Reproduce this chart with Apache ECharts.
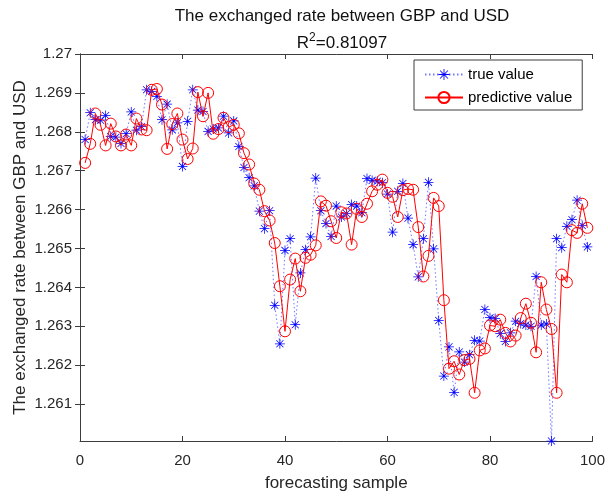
<!DOCTYPE html>
<html>
<head>
<meta charset="utf-8">
<script src="https://cdn.jsdelivr.net/npm/echarts@6/dist/echarts.min.js"></script>
<style>
  html, body { margin: 0; padding: 0; background: #ffffff; }
  #chart { width: 608px; height: 497px; }
</style>
</head>
<body>
<div id="chart"></div>
<script>
// Forecast sample number
const sampleIndex = [
  1, 2, 3, 4, 5, 6, 7, 8, 9, 10, 11, 12, 13, 14, 15, 16, 17, 18, 19, 20,
  21, 22, 23, 24, 25, 26, 27, 28, 29, 30, 31, 32, 33, 34, 35, 36, 37, 38, 39, 40,
  41, 42, 43, 44, 45, 46, 47, 48, 49, 50, 51, 52, 53, 54, 55, 56, 57, 58, 59, 60,
  61, 62, 63, 64, 65, 66, 67, 68, 69, 70, 71, 72, 73, 74, 75, 76, 77, 78, 79, 80,
  81, 82, 83, 84, 85, 86, 87, 88, 89, 90, 91, 92, 93, 94, 95, 96, 97, 98, 99
];

// Observed GBP/USD rate
const trueValue = [
  1.2678, 1.26849, 1.26831, 1.2683, 1.26842, 1.26788, 1.26786, 1.2677, 1.26795, 1.26851,
  1.26804, 1.26813, 1.26908, 1.26904, 1.26891, 1.26831, 1.26871, 1.26805, 1.26823, 1.26711,
  1.26827, 1.26908, 1.26856, 1.26852, 1.26801, 1.26807, 1.2681, 1.2684, 1.26797, 1.26828,
  1.26762, 1.26708, 1.26682, 1.26661, 1.26596, 1.26551, 1.26597, 1.26354, 1.26255, 1.26495,
  1.26525, 1.26304, 1.26437, 1.26497, 1.2653, 1.26681, 1.26597, 1.26564, 1.26531, 1.26609,
  1.26581, 1.2659, 1.26613, 1.26609, 1.26592, 1.2668, 1.26675, 1.26673, 1.26669, 1.2664,
  1.26542, 1.26647, 1.26667, 1.26578, 1.2651, 1.26427, 1.26525, 1.2667, 1.26499, 1.26315,
  1.26172, 1.26247, 1.2613, 1.26234, 1.26208, 1.26227, 1.26264, 1.26262, 1.26343, 1.26322,
  1.2632, 1.26281, 1.26261, 1.26283, 1.26313, 1.26307, 1.26303, 1.263, 1.26428, 1.26303,
  1.26306, 1.26005, 1.26525, 1.26502, 1.26557, 1.26574, 1.26624, 1.26559, 1.26504
];

// Model forecast
const predictiveValue = [
  1.2672, 1.26769, 1.26847, 1.26818, 1.26765, 1.26821, 1.26788, 1.26765, 1.26793, 1.26765,
  1.26834, 1.26806, 1.26804, 1.26908, 1.2691, 1.2687, 1.26756, 1.2682, 1.26847, 1.2678,
  1.2673, 1.26757, 1.26902, 1.2684, 1.269, 1.26795, 1.26807, 1.26836, 1.26812, 1.26818,
  1.26796, 1.26745, 1.26716, 1.26667, 1.26651, 1.26596, 1.26572, 1.26514, 1.26403, 1.26287,
  1.2642, 1.26474, 1.2639, 1.26476, 1.26484, 1.26508, 1.26621, 1.2661, 1.2657, 1.26527,
  1.26593, 1.2659, 1.2651, 1.26602, 1.26581, 1.26615, 1.26647, 1.26664, 1.26677, 1.26643,
  1.26633, 1.26581, 1.2665, 1.26653, 1.26651, 1.26555, 1.26428, 1.26481, 1.2663, 1.26609,
  1.26367, 1.26191, 1.2621, 1.26176, 1.26213, 1.26216, 1.26129, 1.26238, 1.26243, 1.26302,
  1.263, 1.26317, 1.26283, 1.26261, 1.26276, 1.26321, 1.26358, 1.26309, 1.26233, 1.26413,
  1.26343, 1.26293, 1.26129, 1.26433, 1.26413, 1.26547, 1.2654, 1.26615, 1.26553
];

const yTickValues = [1.261, 1.262, 1.263, 1.264, 1.265, 1.266, 1.267, 1.268, 1.269, 1.27];

const FONT = '"Liberation Sans", Arial, Helvetica, sans-serif';
const AXIS_COLOR = '#3c3c3c';
const TEXT_COLOR = '#262626';

// Eight-armed asterisk marker
const STAR = 'path://M9.25 0 L10.75 0 L10.75 20 L9.25 20 Z ' +
             'M0 9.25 L20 9.25 L20 10.75 L0 10.75 Z ' +
             'M3.46 2.4 L17.6 16.54 L16.54 17.6 L2.4 3.46 Z ' +
             'M16.54 2.4 L17.6 3.46 L3.46 17.6 L2.4 16.54 Z';

const truePoints = sampleIndex.map((x, i) => [x, trueValue[i]]);
const predPoints = sampleIndex.map((x, i) => [x, predictiveValue[i]]);

const chart = echarts.init(document.getElementById('chart'), null, { renderer: 'canvas' });

const frameAxis = {
  axisLine: { show: true, lineStyle: { color: AXIS_COLOR, width: 1 } },
  axisTick: { show: true, inside: true, length: 5, lineStyle: { color: AXIS_COLOR, width: 1 } },
  splitLine: { show: false }
};

const titleText = { fontFamily: FONT, fontSize: 17, fontWeight: 'normal', color: '#111' };

chart.setOption({
  backgroundColor: '#ffffff',
  animation: false,
  title: [
    {
      text: 'The exchanged rate between GBP and USD',
      left: 337, top: 3, textAlign: 'center',
      textStyle: titleText
    },
    {
      text: '{b|R}{sup|2}{b|=0.81097}',
      left: 337, top: 27, textAlign: 'center',
      textStyle: Object.assign({}, titleText, {
        rich: {
          b: { fontFamily: FONT, fontSize: 17, color: '#111', lineHeight: 20, verticalAlign: 'bottom' },
          sup: { fontFamily: FONT, fontSize: 12, color: '#111', lineHeight: 20, verticalAlign: 'top' }
        }
      })
    }
  ],
  legend: {
    orient: 'vertical',
    left: 414, top: 60,
    padding: [7, 10, 5, 10],
    itemGap: 8,
    itemWidth: 38,
    itemHeight: 14,
    borderColor: AXIS_COLOR,
    borderWidth: 1,
    backgroundColor: '#ffffff',
    textStyle: { fontFamily: FONT, fontSize: 15, color: '#000' },
    data: ['true value', 'predictive value']
  },
  grid: { left: 80, right: 14, top: 54, bottom: 56, containLabel: false },
  xAxis: [
    Object.assign({}, frameAxis, {
      type: 'value', position: 'bottom', min: 0, max: 100, interval: 20,
      axisLabel: { margin: 12, fontFamily: FONT, fontSize: 15, color: TEXT_COLOR },
      name: 'forecasting sample', nameLocation: 'middle', nameGap: 34,
      nameMoveOverlap: false,
      nameTextStyle: { fontFamily: FONT, fontSize: 17, color: TEXT_COLOR }
    }),
    Object.assign({}, frameAxis, {
      type: 'value', position: 'top', min: 0, max: 100, interval: 20,
      axisLabel: { show: false }
    })
  ],
  yAxis: [
    Object.assign({}, frameAxis, {
      type: 'value', position: 'left', min: 1.26005, max: 1.27,
      axisTick: { show: true, inside: true, length: 5, customValues: yTickValues,
                  lineStyle: { color: AXIS_COLOR, width: 1 } },
      axisLabel: { margin: 8, customValues: yTickValues, fontFamily: FONT, fontSize: 15, color: TEXT_COLOR },
      name: 'The exchanged rate between GBP and USD', nameLocation: 'middle', nameGap: 51,
      nameMoveOverlap: false,
      nameTextStyle: { fontFamily: FONT, fontSize: 17, color: TEXT_COLOR }
    }),
    Object.assign({}, frameAxis, {
      type: 'value', position: 'right', min: 1.26005, max: 1.27,
      axisTick: { show: true, inside: true, length: 5, customValues: yTickValues,
                  lineStyle: { color: AXIS_COLOR, width: 1 } },
      axisLabel: { show: false }
    })
  ],
  series: [
    {
      name: 'true value',
      type: 'line',
      data: truePoints,
      showAllSymbol: true,
      symbol: STAR,
      symbolSize: 10,
      symbolKeepAspect: true,
      itemStyle: { color: '#0000ff' },
      lineStyle: { color: 'rgba(0, 0, 255, 0.55)', width: 1, type: [1.5, 2.5] },
      emphasis: { disabled: true },
      z: 2
    },
    {
      name: 'predictive value',
      type: 'line',
      data: predPoints,
      showAllSymbol: true,
      symbol: 'circle',
      symbolSize: 11,
      itemStyle: { color: 'rgba(255, 255, 255, 0)', borderColor: '#ff0000', borderWidth: 1 },
      lineStyle: { color: '#ff0000', width: 1 },
      emphasis: { disabled: true },
      z: 3
    }
  ]
});
</script>
</body>
</html>
